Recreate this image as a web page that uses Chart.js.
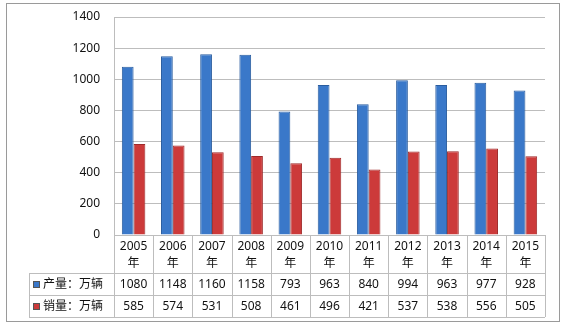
<!DOCTYPE html>
<html>
<head>
<meta charset="utf-8">
<script src="https://cdn.jsdelivr.net/npm/chart.js@4/dist/chart.umd.min.js"></script>
<style>
  body { margin: 0; background: #fff; }
  #wrap { width: 564px; height: 327px; }
</style>
</head>
<body>
<div id="wrap"><canvas id="chart" width="564" height="327"></canvas></div>
<script>
const years = ['2005', '2006', '2007', '2008', '2009', '2010', '2011', '2012', '2013', '2014', '2015'];
const output = [1080, 1148, 1160, 1158, 793, 963, 840, 994, 963, 977, 928];
const sales = [585, 574, 531, 508, 461, 496, 421, 537, 538, 556, 505];
const seriesNames = ['产量：万辆', '销量：万辆'];
const yTicks = [0, 200, 400, 600, 800, 1000, 1200, 1400];

const FONT = '"Noto Sans", "Noto Sans CJK SC", sans-serif';
const blue = '#3a78c9';
const red = '#cc3a3a';
const lineColor = '#bdbdbd';

// data table under the plot, drawn with the x scale positions
const tablePlugin = {
    id: 'dataTable',
    afterDraw(chart) {
        const ctx = chart.ctx;
        const x = chart.scales.x;
        const area = chart.chartArea;
        const step = x.getPixelForValue(1) - x.getPixelForValue(0);
        const left = area.left;
        const right = area.right;
        const top = area.bottom;
        const rowTop = top + 38;
        const rowH = 22;
        const tableLeft = 29;
        const bottom = rowTop + rowH * 2;

        ctx.save();
        ctx.strokeStyle = lineColor;
        ctx.lineWidth = 1;
        ctx.beginPath();
        ctx.moveTo(left, top + 0.5); ctx.lineTo(right, top + 0.5);
        for (let r = 0; r <= 2; r++) {
            const y = Math.round(rowTop + r * rowH) + 0.5;
            ctx.moveTo(tableLeft, y); ctx.lineTo(right, y);
        }
        for (let i = 0; i <= years.length; i++) {
            const vx = Math.round(left + i * step) + 0.5;
            ctx.moveTo(vx, top); ctx.lineTo(vx, bottom);
        }
        ctx.moveTo(tableLeft + 0.5, rowTop); ctx.lineTo(tableLeft + 0.5, bottom);
        ctx.stroke();

        // outer frame
        ctx.strokeStyle = '#9a9a9a';
        ctx.strokeRect(6.5, 3.5, 553, 318);

        ctx.font = '12px ' + FONT;
        ctx.fillStyle = '#111';
        ctx.textBaseline = 'middle';
        const rows = [output, sales];
        const colors = [blue, red];
        rows.forEach((vals, r) => {
            const cy = rowTop + r * rowH + rowH / 2 + 1;
            ctx.textAlign = 'center';
            vals.forEach((v, i) => {
                ctx.fillText(String(v), x.getPixelForValue(i), cy);
            });
            ctx.fillStyle = colors[r];
            ctx.fillRect(33, cy - 4, 7, 7);
            ctx.strokeStyle = '#555';
            ctx.strokeRect(33.5, cy - 3.5, 6, 6);
            ctx.fillStyle = '#111';
            ctx.textAlign = 'left';
            ctx.fillText(seriesNames[r], 43, cy);
        });
        ctx.restore();
    }
};

new Chart(document.getElementById('chart'), {
    type: 'bar',
    data: {
        labels: years.map(y => [y, '年']),
        datasets: [
            {
                label: seriesNames[0],
                data: output,
                backgroundColor: blue,
                borderColor: '#2a5d9f',
                borderWidth: 1,
                categoryPercentage: 0.6,
                barPercentage: 1.0
            },
            {
                label: seriesNames[1],
                data: sales,
                backgroundColor: red,
                borderColor: '#9e2a2a',
                borderWidth: 1,
                categoryPercentage: 0.6,
                barPercentage: 1.0
            }
        ]
    },
    options: {
        responsive: false,
        animation: false,
        layout: {
            padding: { left: 0, right: 19, top: 17, bottom: 54 }
        },
        plugins: {
            legend: { display: false },
            tooltip: { enabled: false }
        },
        scales: {
            x: {
                grid: { display: false, drawTicks: false, tickLength: 0 },
                border: { display: false },
                ticks: {
                    color: '#111',
                    font: { size: 12, family: FONT, lineHeight: 1.4 },
                    padding: 3,
                    maxRotation: 0
                },
                afterFit(scale) { scale.height = 38; }
            },
            y: {
                min: 0,
                max: 1400,
                afterBuildTicks(scale) { scale.ticks = yTicks.map(v => ({ value: v })); },
                grid: { color: lineColor, drawTicks: false },
                border: { display: true, color: lineColor },
                ticks: {
                    color: '#111',
                    font: { size: 12, family: FONT },
                    padding: 14,
                    callback: v => String(v)
                },
                afterFit(scale) {
                    scale.width = 114;
                    scale.paddingTop = 0;
                    scale.paddingBottom = 0;
                }
            }
        }
    },
    plugins: [tablePlugin]
});
</script>
</body>
</html>
